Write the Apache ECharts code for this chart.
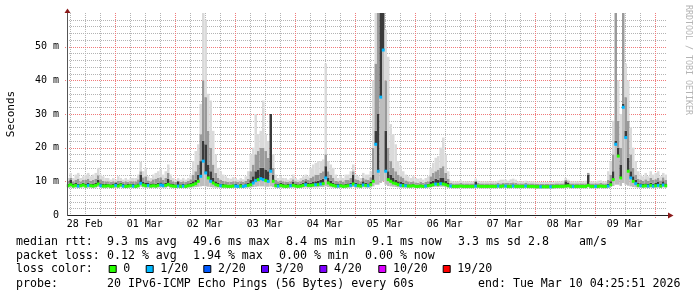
<!DOCTYPE html>
<html>
<head>
<meta charset="utf-8">
<script src="https://cdn.jsdelivr.net/npm/echarts@6/dist/echarts.min.js"></script>
<style>
html,body{margin:0;padding:0;background:#fff;}
#chart{width:697px;height:297px;}
</style>
</head>
<body>
<div id="chart"></div>
<script>
// ---- time bins: hourly, first bin starts START hours after 28 Feb 00:00 ----
const START = 4.9;
const dayLabels = ['28 Feb','01 Mar','02 Mar','03 Mar','04 Mar','05 Mar','06 Mar','07 Mar','08 Mar','09 Mar'];
const yTickValues = [0, 10, 20, 30, 40, 50];
const yTickLabels = ['0', '10 m', '20 m', '30 m', '40 m', '50 m'];

// median rtt (ms) per hourly bin
const median = [
 8.7, 9.0, 8.6, 8.8, 8.6, 8.7, 8.9, 8.6, 8.8, 8.7,
 8.6, 8.8, 9.2, 8.7, 8.6, 8.6, 8.7, 8.5, 8.6, 8.8,
 8.6, 8.9, 8.6, 8.5, 8.6, 8.7, 8.6, 8.5, 8.7, 9.4,
 8.9, 8.7, 8.8, 8.6, 8.7, 8.6, 8.8, 8.9, 8.7, 8.8,
 9.1, 8.7, 8.6, 8.5, 8.6, 8.5, 8.6, 8.5, 8.7, 8.8,
 9.0, 9.3, 10.0, 11.5, 16.0, 12.5, 11.0, 10.0, 9.5, 9.0,
 8.8, 8.7, 8.6, 8.6, 8.5, 8.5, 8.6, 8.6, 8.5, 8.6,
 8.5, 8.7, 8.8, 9.0, 9.5, 10.2, 10.5, 10.8, 10.5, 10.2,
 10.0, 13.0, 10.0, 8.7, 8.6, 8.8, 8.6, 8.5, 8.6, 8.7,
 8.8, 8.6, 8.5, 8.6, 8.8, 9.0, 8.8, 8.8, 8.9, 9.0,
 9.0, 9.2, 9.3, 11.0, 9.5, 9.0, 8.8, 8.6, 8.6, 8.7,
 8.5, 8.6, 8.7, 8.8, 9.2, 8.8, 8.7, 8.6, 8.9, 8.8,
 8.7, 9.0, 10.0, 21.0, 13.0, 35.0, 49.0, 13.0, 10.5, 10.0,
 9.5, 9.3, 9.0, 8.8, 8.7, 8.7, 8.6, 8.6, 8.7, 8.5,
 8.5, 8.6, 8.5, 8.6, 8.7, 8.8, 9.0, 9.2, 9.1, 9.3,
 9.2, 9.0, 8.7, 8.6, 8.5, 8.5, 8.5, 8.6, 8.5, 8.5,
 8.5, 8.5, 8.5, 8.6, 8.6, 8.5, 8.5, 8.5, 8.5, 8.5,
 8.5, 8.5, 8.6, 8.5, 8.6, 8.6, 8.5, 8.5, 8.6, 8.5,
 8.5, 8.5, 8.5, 8.6, 8.5, 8.5, 8.5, 8.4, 8.4, 8.4,
 8.4, 8.4, 8.4, 8.4, 8.4, 8.5, 8.5, 8.5, 8.5, 8.6,
 8.7, 8.5, 8.5, 8.5, 8.5, 8.5, 8.5, 8.5, 8.8, 8.5,
 8.5, 8.5, 8.5, 8.6, 8.5, 8.5, 8.6, 9.0, 10.5, 21.0,
 17.5, 11.0, 32.0, 23.0, 13.0, 11.0, 10.0, 9.3, 8.8, 8.7,
 8.6, 8.7, 8.6, 8.8, 8.6, 8.7, 8.8, 8.6, 8.9, 8.7
];
// top of the dark smoke band (ms)
const smokeDark = [
 9.3, 10.5, 9.2, 9.5, 9.3, 9.3, 9.6, 9.2, 9.5, 9.3,
 9.2, 9.5, 10.5, 9.4, 9.2, 9.2, 9.3, 9.1, 9.2, 9.5,
 9.2, 9.6, 9.2, 9.1, 9.2, 9.3, 9.2, 9.1, 9.4, 12.0,
 9.8, 9.5, 9.5, 9.2, 9.4, 9.3, 9.6, 9.7, 9.4, 9.6,
 10.8, 9.4, 9.2, 9.1, 10.0, 9.1, 9.2, 9.1, 9.4, 9.6,
 10, 10.5, 12, 16, 22, 21, 15, 13, 11, 10,
 9.5, 9.3, 9.2, 9.1, 9.0, 9.0, 9.1, 9.2, 9.0, 9.2,
 9.0, 9.4, 9.6, 10.5, 11.5, 13, 13.5, 14, 14, 13.5,
 13, 30, 12, 9.4, 9.2, 9.6, 9.2, 9.1, 9.2, 9.3,
 9.8, 9.2, 9.1, 9.3, 9.6, 10.0, 9.5, 9.6, 9.8, 10.0,
 10.2, 10.5, 10.8, 14.5, 11, 10.2, 9.6, 9.2, 9.2, 9.3,
 9.1, 9.3, 9.4, 9.6, 12.0, 9.6, 9.4, 9.2, 10.0, 9.6,
 9.4, 9.8, 12, 25, 30, 60, 60, 25, 13, 12,
 11, 10.5, 10, 9.8, 9.6, 9.3, 9.1, 9.1, 9.2, 9.0,
 9.0, 9.1, 9.0, 9.1, 9.3, 9.8, 10.2, 10.8, 10.5, 11.0,
 11.0, 10.2, 9.5, 9.0, 8.9, 8.9, 8.9, 9.0, 8.9, 8.9,
 8.9, 8.9, 8.9, 9.8, 9.0, 8.9, 8.9, 8.9, 8.9, 8.9,
 8.9, 8.9, 9.0, 8.9, 9.1, 9.0, 8.9, 8.9, 9.1, 8.9,
 8.9, 8.9, 8.9, 9.0, 8.9, 8.9, 8.9, 8.8, 8.8, 8.8,
 8.8, 8.8, 8.8, 8.8, 8.8, 8.9, 8.9, 8.9, 8.9, 10.0,
 9.6, 8.9, 8.9, 8.9, 8.9, 8.9, 8.9, 8.9, 12.0, 8.9,
 8.9, 8.9, 8.9, 9.0, 8.9, 8.9, 9.3, 10, 13, 22,
 20, 15, 33, 25, 17, 13, 11.5, 10.5, 9.5, 9.4,
 9.2, 9.4, 9.2, 9.6, 9.3, 9.5, 9.8, 9.2, 10.0, 9.4
];
// top of the medium-grey smoke band (ms)
const smokeMid = [
 10.2, 11.0, 10.0, 10.5, 10.8, 10.0, 10.4, 10.5, 10.8, 10.2,
 10.5, 10.8, 11.8, 10.6, 10.2, 10.0, 10.0, 9.8, 10.0, 9.9,
 10.2, 10.1, 9.8, 10.0, 9.8, 10.0, 10.0, 10.0, 10.6, 13.0,
 11.2, 11.5, 10.3, 10.0, 10.6, 10.8, 11.0, 11.2, 10.5, 11.0,
 12.5, 10.5, 10.0, 9.8, 10.2, 9.8, 10.0, 9.8, 10.1, 10.6,
 12, 13, 15, 24, 40, 35, 25, 20, 15, 12.5,
 11, 10.5, 10.2, 10.0, 9.8, 9.8, 10.0, 10.0, 9.8, 10.0,
 9.8, 10.2, 10.8, 13, 15, 18, 19, 20, 20, 19,
 17, 30, 14, 10.5, 10.0, 10.3, 10.0, 9.9, 9.8, 10.0,
 10.6, 10.0, 9.8, 10.0, 10.4, 10.8, 10.4, 11, 11.5, 12,
 12, 12.5, 13, 18, 13, 12, 11, 10.2, 10.0, 10.3,
 9.9, 10.4, 10.5, 11, 13, 10.6, 10.4, 10.0, 11.0, 10.6,
 10.5, 11.2, 20, 45, 60, 60, 60, 40, 20, 16,
 14, 13, 12, 11.5, 11, 10.3, 10.0, 9.8, 10.0, 9.7,
 9.6, 9.8, 9.5, 9.8, 10.0, 11.5, 12.5, 13, 13.5, 14,
 14.5, 12.5, 10.8, 9.5, 9.4, 9.4, 9.4, 9.5, 9.4, 9.4,
 9.4, 9.4, 9.4, 10.2, 9.5, 9.4, 9.4, 9.4, 9.4, 9.4,
 9.4, 9.4, 9.5, 9.4, 9.6, 9.6, 9.5, 9.6, 9.7, 9.6,
 9.4, 9.4, 9.4, 9.5, 9.4, 9.4, 9.4, 9.3, 9.3, 9.3,
 9.3, 9.3, 9.3, 9.3, 9.3, 9.4, 9.4, 9.4, 9.4, 10.4,
 10.0, 9.4, 9.4, 9.4, 9.4, 9.4, 9.4, 9.4, 12.5, 9.4,
 9.4, 9.4, 9.4, 9.5, 9.4, 9.4, 10.5, 12, 18, 60,
 28, 20, 60, 35, 28, 18, 14, 12, 10.8, 10.5,
 10.2, 10.6, 10.2, 11.0, 10.4, 10.6, 11.0, 10.3, 11.2, 10.5
];
// highest ping (top of light smoke), ms
const smokeMax = [
 11, 12.5, 11, 12, 12.5, 11, 11.5, 12, 12.5, 11.5,
 12, 12.5, 14, 12, 11.5, 11, 11, 10.5, 11, 10.5,
 11.5, 11, 10.5, 11, 10.5, 11, 11, 11, 12, 15.8,
 13, 14, 11.5, 11, 12, 12.5, 13, 13.5, 12, 13,
 15, 12, 11, 10.5, 11, 10.5, 11, 10.5, 11, 12,
 16, 19, 21, 33, 60, 58, 36, 34, 25, 18,
 14, 13, 12, 11.5, 11, 10.8, 11.2, 11, 10.5, 11,
 10.6, 11.5, 13, 18, 20, 30, 24, 25, 34, 24,
 22, 30, 18, 12, 11, 11.5, 11, 11, 10.5, 11,
 12, 11, 10.5, 11, 11.5, 12, 11.5, 14, 15, 15.5,
 16, 16, 16.5, 45, 16, 15, 14, 12, 11, 11.5,
 11, 12, 12, 13, 15, 12, 11.5, 11, 12.5, 12,
 12, 13, 40, 60, 60, 60, 60, 55, 47, 27,
 24, 21, 16, 14.5, 13, 12, 11.5, 11, 11.5, 11,
 10.8, 11, 10.5, 11, 11.5, 14, 15.5, 17, 17.5, 20,
 23, 18, 13, 10.2, 10, 10, 10, 10.3, 10, 10,
 10, 10, 10, 10.8, 10.2, 10, 10, 10, 10, 10,
 10, 10, 10.2, 10.5, 10.5, 10.5, 10.2, 10.6, 10.8, 10.5,
 10, 10, 10, 10.2, 10, 10, 10, 9.8, 9.8, 9.8,
 9.8, 9.8, 9.8, 9.8, 9.8, 10, 10, 10, 10.2, 11,
 10.5, 10, 10, 10, 10, 10, 10, 10.2, 12.5, 10,
 10, 10, 10.2, 10.3, 10, 10, 13, 16, 28, 60,
 40, 30, 60, 45, 40, 26, 20, 16, 13, 12,
 11.5, 12.5, 11.5, 13, 12, 12.5, 13, 11.5, 12.5, 12
];
// lowest ping (bottom of smoke), ms
const smokeMin = [
 8.1, 8.2, 8.0, 8.1, 8.0, 8.1, 8.2, 8.0, 8.1, 8.1,
 8.0, 8.1, 8.3, 8.1, 8.0, 8.0, 8.1, 8.0, 8.0, 8.1,
 8.0, 8.2, 8.0, 8.0, 8.0, 8.1, 8.0, 8.0, 8.1, 8.4,
 8.2, 8.1, 8.1, 8.0, 8.1, 8.0, 8.1, 8.2, 8.1, 8.1,
 8.3, 8.1, 8.0, 8.0, 8.0, 8.0, 8.0, 8.0, 8.1, 8.1,
 8.2, 8.3, 8.4, 8.5, 8.6, 8.5, 8.4, 8.3, 8.2, 8.1,
 8.1, 8.0, 8.0, 8.0, 8.0, 8.0, 8.0, 8.0, 8.0, 8.0,
 8.0, 8.1, 8.1, 8.2, 8.3, 8.4, 8.5, 8.5, 8.5, 8.4,
 8.4, 8.5, 8.3, 8.1, 8.0, 8.1, 8.0, 8.0, 8.0, 8.1,
 8.1, 8.0, 8.0, 8.0, 8.1, 8.2, 8.1, 8.1, 8.2, 8.2,
 8.2, 8.3, 8.3, 8.5, 8.3, 8.2, 8.1, 8.0, 8.0, 8.1,
 8.0, 8.0, 8.1, 8.1, 8.3, 8.1, 8.1, 8.0, 8.2, 8.1,
 8.1, 8.2, 8.5, 9.0, 9.0, 9.5, 10.0, 9.0, 8.6, 8.5,
 8.4, 8.3, 8.2, 8.1, 8.1, 8.1, 8.0, 8.0, 8.1, 8.0,
 8.0, 8.0, 8.0, 8.0, 8.1, 8.2, 8.3, 8.4, 8.3, 8.4,
 8.4, 8.3, 8.1, 8.0, 7.9, 7.9, 7.9, 8.0, 7.9, 7.9,
 7.9, 7.9, 7.9, 8.0, 8.0, 7.9, 7.9, 7.9, 7.9, 7.9,
 7.9, 7.9, 8.0, 7.9, 8.0, 8.0, 7.9, 7.9, 8.0, 7.9,
 7.9, 7.9, 7.9, 8.0, 7.9, 7.9, 7.9, 7.8, 7.8, 7.8,
 7.8, 7.8, 7.8, 7.8, 7.8, 7.9, 7.9, 7.9, 7.9, 8.0,
 8.1, 7.9, 7.9, 7.9, 7.9, 7.9, 7.9, 7.9, 8.2, 7.9,
 7.9, 7.9, 7.9, 8.0, 7.9, 7.9, 8.0, 8.3, 8.6, 9.0,
 9.0, 8.6, 9.5, 9.0, 8.7, 8.5, 8.3, 8.2, 8.1, 8.1,
 8.0, 8.1, 8.0, 8.1, 8.0, 8.1, 8.1, 8.0, 8.2, 8.1
];
// lost pings out of 20 per bin
const loss = [
 0,0,0,0,1,0,0,0,1,0,
 0,0,0,1,0,0,0,0,0,1,
 0,0,1,0,0,0,1,0,0,1,
 0,0,1,0,0,0,0,1,1,0,
 0,0,0,0,1,0,1,0,0,0,
 0,0,0,1,1,1,0,1,0,0,
 0,1,0,0,0,0,0,1,1,0,
 1,1,0,0,1,1,0,1,1,0,
 1,1,0,0,1,0,0,0,0,1,
 0,0,0,0,0,1,0,0,0,1,
 0,1,0,1,0,0,0,0,1,0,
 0,0,0,1,0,1,0,0,1,0,
 1,0,0,1,1,1,1,1,0,0,
 0,0,0,1,0,1,0,0,0,0,
 0,0,0,1,0,0,0,1,0,1,
 0,0,0,1,0,0,0,0,0,0,
 0,0,0,1,0,0,0,0,0,0,
 0,0,1,0,0,1,0,0,1,0,
 0,0,0,1,0,0,0,0,0,1,
 0,0,0,1,0,0,0,0,0,0,
 0,0,1,0,0,0,0,0,0,0,
 0,1,0,0,0,0,1,0,0,1,
 0,0,1,1,0,1,0,1,0,1,
 0,0,1,0,1,0,1,0,1,0
];
const lossSteps  = [0, 1, 2, 3, 4, 10, 19];
const lossLabels = ['0', '1/20', '2/20', '3/20', '4/20', '10/20', '19/20'];
const lossColors = ['#26ff00', '#00b8ff', '#0059ff', '#5e00ff', '#7e00ff', '#dd00ff', '#ff0000'];

const Y_MAX = 60;
const FONT = "'DejaVu Sans Mono', monospace";
const MAJOR = '#f07a7a', MINOR = '#b4b4b4';

function colorForLoss(n) {
  let c = lossColors[0];
  for (let k = 0; k < lossSteps.length; k++) if (n >= lossSteps[k]) c = lossColors[k];
  return c;
}

const rows = median.map((m, i) => [START + i, m, smokeDark[i], smokeMid[i], smokeMax[i], smokeMin[i], loss[i]]);
const END = START + median.length;

// axis tick positions (hours since 28 Feb 00:00)
const DAY = 24;
const dayNoons = dayLabels.map((_, d) => DAY * d + 12);
const dayBounds = dayLabels.map((_, d) => DAY * (d + 1));
const xMinor = [];
for (let d = 0; d <= 10; d++) for (const q of [6, 12, 18]) {
  const v = DAY * d + q;
  if (v > START && v < END) xMinor.push(v);
}
const yMinor = [];
for (let v = 2; v < Y_MAX; v += 2) if (v % 10 !== 0) yMinor.push(v);
const yMajor = yTickValues.filter(v => v > 0);

// dotted grid line series (drawn below the smoke)
function gridLines(values, vertical, color, ext) {
  return {
    type: 'custom', silent: true, clip: false, z: 1,
    data: values.map(v => vertical ? [v, 0] : [START, v]),
    encode: { x: 0, y: 1 },
    renderItem: function (params, api) {
      const cs = params.coordSys;
      const p = api.coord([api.value(0), api.value(1)]);
      let shape;
      if (vertical) {
        const x = Math.round(p[0]) + 0.5;
        shape = { x1: x, y1: Math.round(cs.y), x2: x, y2: Math.round(cs.y + cs.height) + ext };
      } else {
        const y = Math.round(p[1]) + 0.5;
        shape = { x1: Math.round(cs.x) - ext, y1: y, x2: Math.round(cs.x + cs.width), y2: y };
      }
      return { type: 'line', shape: shape, style: { stroke: color, fill: null, lineWidth: 1, lineDash: [1, 1] } };
    }
  };
}

function smokeItem(params, api) {
  const t = api.value(0);
  const x0 = api.coord([t, 0])[0];
  const x1 = api.coord([t + 1, 0])[0];
  const Y = v => api.coord([t, Math.min(v, Y_MAX)])[1];
  const band = (a, b, fill) => ({
    type: 'rect',
    shape: { x: x0, y: Y(b), width: x1 - x0, height: Math.max(0, Y(a) - Y(b)) },
    style: { fill: fill }
  });
  return {
    type: 'group',
    children: [
      band(api.value(5), api.value(1), '#bdbdbd'),
      band(api.value(1), api.value(2), '#3a3a3a'),
      band(api.value(2), api.value(3), '#9a9a9a'),
      band(api.value(3), api.value(4), '#dadada')
    ]
  };
}
function medianItem(params, api) {
  const t = api.value(0);
  const x0 = api.coord([t, 0])[0];
  const x1 = api.coord([t + 1, 0])[0];
  const y = api.coord([t, Math.min(api.value(1), Y_MAX)])[1];
  return {
    type: 'rect',
    shape: { x: x0 - 0.2, y: y - 1.5, width: x1 - x0 + 0.4, height: 3 },
    style: { fill: colorForLoss(api.value(6)) }
  };
}

const chart = echarts.init(document.getElementById('chart'), null, { renderer: 'canvas' });

const text = (x, y, s, extra) => Object.assign({
  type: 'text', x: x, y: y, z: 100,
  style: { text: s, font: "11.6px " + FONT, fill: '#000', textVerticalAlign: 'middle' }
}, extra || {});

const graphics = [];
// axis lines with arrows
graphics.push({ type: 'line', z: 100, shape: { x1: 67, y1: 215.5, x2: 669, y2: 215.5 }, style: { stroke: '#222', lineWidth: 1 } });
graphics.push({ type: 'polygon', z: 101, shape: { points: [[668, 212.5], [673.5, 215.5], [668, 218.5]] }, style: { fill: '#8b1a1a' } });
graphics.push({ type: 'line', z: 100, shape: { x1: 67.5, y1: 216, x2: 67.5, y2: 12 }, style: { stroke: '#555', lineWidth: 1 } });
graphics.push({ type: 'polygon', z: 101, shape: { points: [[64.5, 13], [67.5, 8.5], [70.5, 13]] }, style: { fill: '#8b1a1a' } });
// axis title & watermark
graphics.push({ type: 'text', x: 11, y: 114, rotation: Math.PI / 2, z: 100,
  style: { text: 'Seconds', font: "11px " + FONT, fill: '#000', textAlign: 'center', textVerticalAlign: 'middle' } });
graphics.push({ type: 'text', x: 688, y: 60, rotation: -Math.PI / 2, z: 100,
  style: { text: 'RRDTOOL / TOBI OETIKER', font: "8.3px " + FONT, fill: '#b4b4b4', textAlign: 'center', textVerticalAlign: 'middle' } });
// legend rows
graphics.push(text(16, 241.5, 'median rtt:'));
graphics.push(text(107, 241.5, '9.3 ms avg'));
graphics.push(text(193, 241.5, '49.6 ms max'));
graphics.push(text(286, 241.5, '8.4 ms min'));
graphics.push(text(372, 241.5, '9.1 ms now'));
graphics.push(text(458, 241.5, '3.3 ms sd'));
graphics.push(text(528, 241.5, '2.8'));
graphics.push(text(579, 241.5, 'am/s'));
graphics.push(text(16, 255.5, 'packet loss:'));
graphics.push(text(107, 255.5, '0.12 % avg'));
graphics.push(text(193, 255.5, '1.94 % max'));
graphics.push(text(279, 255.5, '0.00 % min'));
graphics.push(text(365, 255.5, '0.00 % now'));
graphics.push(text(16, 269, 'loss color:'));
const boxX = [108.7, 145.7, 203.3, 261, 319.3, 378.3, 442.7];
lossLabels.forEach((lab, k) => {
  graphics.push({ type: 'rect', z: 100, shape: { x: boxX[k] + 0.5, y: 265.5, width: 7, height: 7 },
    style: { fill: lossColors[k], stroke: '#000', lineWidth: 1 } });
  graphics.push(text(boxX[k] + 14.6, 269, lab));
});
graphics.push(text(16, 283.5, 'probe:'));
graphics.push(text(107, 283.5, '20 IPv6-ICMP Echo Pings (56 Bytes) every 60s'));
graphics.push(text(478, 283.5, 'end: Tue Mar 10 04:25:51 2026'));

chart.setOption({
  animation: false,
  backgroundColor: '#fff',
  grid: { left: 67, top: 13, width: 600, height: 202, containLabel: false },
  xAxis: {
    type: 'value', min: START, max: END, position: 'bottom',
    axisLine: { show: false },
    axisTick: { show: false },
    axisLabel: {
      show: true, customValues: dayNoons, margin: 4,
      fontFamily: FONT, fontSize: 10, color: '#000',
      formatter: v => dayLabels[Math.round((v - 12) / DAY)]
    },
    splitLine: { show: false }
  },
  yAxis: {
    type: 'value', min: 0, max: Y_MAX, interval: 10,
    axisLine: { show: false },
    axisTick: { show: false },
    axisLabel: {
      customValues: yTickValues, margin: 8, fontFamily: FONT, fontSize: 10, color: '#000',
      formatter: v => yTickLabels[yTickValues.indexOf(v)]
    },
    splitLine: { show: false }
  },
  series: [
    gridLines(xMinor, true, MINOR, 0),
    gridLines(yMinor, false, MINOR, 0),
    gridLines(dayBounds, true, MAJOR, 3),
    gridLines(yMajor, false, MAJOR, 2),
    { type: 'custom', name: 'smoke', renderItem: smokeItem, data: rows,
      encode: { x: 0, y: [1, 4] }, z: 2, silent: true },
    { type: 'custom', name: 'median', renderItem: medianItem, data: rows,
      encode: { x: 0, y: 1 }, z: 3, silent: true }
  ],
  graphic: graphics
});
</script>
</body>
</html>
